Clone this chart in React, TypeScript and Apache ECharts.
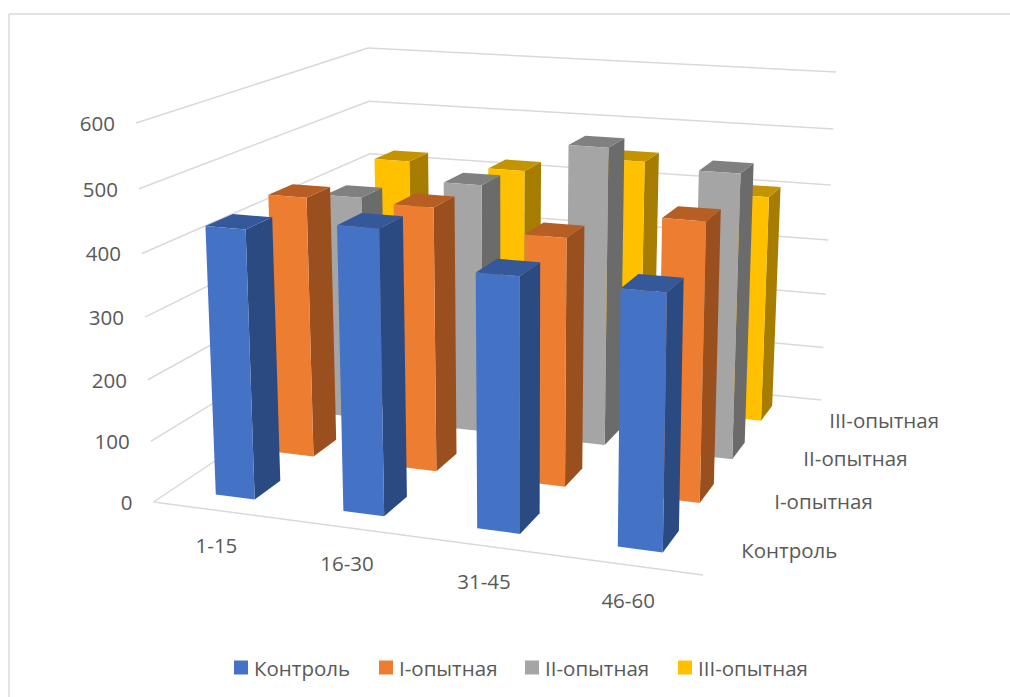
import React, { useEffect, useRef } from "react";
import * as echarts from "echarts";

const categories = ["1-15", "16-30", "31-45", "46-60"];
const seriesNames = ["Контроль", "I-опытная", "II-опытная", "III-опытная"];
const valueTicks = [0, 100, 200, 300, 400, 500, 600];

const control = [435, 453, 399, 394];
const firstGroup = [441, 441, 409, 452];
const secondGroup = [398, 435, 513, 485];
const thirdGroup = [422, 419, 450, 403];
const seriesValues = [control, firstGroup, secondGroup, thirdGroup];

const FRONT_COLORS = ["#4472C4", "#ED7D31", "#A5A5A5", "#FFC000"];
const SIDE_COLORS = ["#2B4A82", "#9A501E", "#6B6B6B", "#A67D00"];
const TOP_COLORS = ["#34589A", "#B65E24", "#808080", "#C49400"];
const LEGEND_LEFTS = [234, 379, 525, 678];

const VALUE_MAX = 600;
const BAR_WIDTH = 0.31;
const BAR_DEPTH = 0.42;
const HEIGHT_FORESHORTEN = 1.05;
const TEXT_COLOR = "#595959";
const GRID_COLOR = "#D9D9D9";
const FONT = "'Open Sans', sans-serif";
const FONT_SIZE = 20.5;

type Pt = [number, number];

// Corners of the floor and of the plane at the axis maximum.
const floorO: Pt = [153.5, 502];
const floorX: Pt = [703, 575];
const floorXY: Pt = [821, 400];
const floorY: Pt = [374, 355];
const topO: Pt = [136, 123];
const topXY: Pt = [836, 72];
const topY: Pt = [368, 48];

// Denominator of the floor's projective map (corners 00, 10, 11, 01).
const sx = floorO[0] - floorX[0] + floorXY[0] - floorY[0];
const sy = floorO[1] - floorX[1] + floorXY[1] - floorY[1];
const dx1 = floorX[0] - floorXY[0];
const dx2 = floorY[0] - floorXY[0];
const dy1 = floorX[1] - floorXY[1];
const dy2 = floorY[1] - floorXY[1];
const det = dx1 * dy2 - dx2 * dy1;
const g = (sx * dy2 - dx2 * sy) / det;
const h = (dx1 * sy - sx * dy1) / det;

// A plane through three corners that shares the floor's foreshortening.
function planeMap(o: Pt, xy: Pt, y: Pt) {
  const coef = (k: number) => {
    const b = y[k] * (1 + h) - o[k];
    const a = xy[k] * (1 + g + h) - b - o[k];
    return [a, b, o[k]];
  };
  const cx = coef(0);
  const cy = coef(1);
  return (u: number, v: number): Pt => {
    const w = g * u + h * v + 1;
    return [(cx[0] * u + cx[1] * v + cx[2]) / w, (cy[0] * u + cy[1] * v + cy[2]) / w];
  };
}

const floorPlane = planeMap(floorO, floorXY, floorY);
const topPlane = planeMap(topO, topXY, topY);

// Category position, series position and value to pixels.
function project(cat: number, row: number, value: number): Pt {
  const u = cat / categories.length;
  const v = row / seriesNames.length;
  const r = value / VALUE_MAX;
  const t = r / (HEIGHT_FORESHORTEN - (HEIGHT_FORESHORTEN - 1) * r);
  const f = floorPlane(u, v);
  const c = topPlane(u, v);
  return [f[0] + (c[0] - f[0]) * t, f[1] + (c[1] - f[1]) * t];
}

const poly = (points: Pt[], fill: string) => ({
  type: "polygon",
  shape: { points },
  style: { fill, stroke: null },
});

function barRenderer(row: number) {
  return (_params: unknown, api: any) => {
    const cat = api.value(0);
    const val = api.value(1);
    const x0 = cat + 0.5 - BAR_WIDTH / 2;
    const x1 = cat + 0.5 + BAR_WIDTH / 2;
    const y0 = row + 0.5 - BAR_DEPTH / 2;
    const y1 = row + 0.5 + BAR_DEPTH / 2;
    return {
      type: "group",
      children: [
        poly([project(x1, y0, 0), project(x1, y1, 0), project(x1, y1, val), project(x1, y0, val)], SIDE_COLORS[row]),
        poly([project(x0, y0, val), project(x1, y0, val), project(x1, y1, val), project(x0, y1, val)], TOP_COLORS[row]),
        poly([project(x0, y0, 0), project(x1, y0, 0), project(x1, y0, val), project(x0, y0, val)], FRONT_COLORS[row]),
      ],
    };
  };
}

const label = (text: string, x: number, y: number, align: string) => ({
  type: "text",
  x,
  y,
  style: { text, fill: TEXT_COLOR, font: `${FONT_SIZE}px ${FONT}`, align, verticalAlign: "middle" },
});

const line = (a: Pt, b: Pt) => ({
  type: "line",
  shape: { x1: a[0], y1: a[1], x2: b[0], y2: b[1] },
  style: { stroke: GRID_COLOR, lineWidth: 1.5 },
});

const nCats = categories.length;
const nRows = seriesNames.length;

// Walls, floor and axis labels of the box.
function frameRenderer(_params: unknown, api: any) {
  const kind = api.value(0);
  const idx = api.value(1);
  if (kind === 0) {
    const v = valueTicks[idx];
    const start = project(0, 0, v);
    return {
      type: "group",
      children: [
        line(start, project(0, nRows, v)),
        line(project(0, nRows, v), project(nCats, nRows, v)),
        label(String(v), start[0] - 21, start[1], "right"),
      ],
    };
  }
  if (kind === 1) {
    const p = project(idx + 0.5, 0, 0);
    return label(categories[idx], p[0], p[1] + 35, "center");
  }
  if (kind === 2) {
    const p = project(nCats, idx + 0.5, 0);
    return label(seriesNames[idx], p[0] + 20, p[1] + 2, "left");
  }
  return line(project(0, 0, 0), project(nCats, 0, 0));
}

const frameData: number[][] = [
  ...valueTicks.map((_, i) => [0, i]),
  ...categories.map((_, i) => [1, i]),
  ...seriesNames.map((_, i) => [2, i]),
  [3, 0],
];

export default function App() {
  const ref = useRef<HTMLDivElement>(null);
  useEffect(() => {
    const chart = echarts.init(ref.current!, undefined, { renderer: "svg" });
    chart.setOption({
      animation: false,
      backgroundColor: "#FFFFFF",
      graphic: [
        { type: "line", shape: { x1: 9, y1: 14, x2: 1010, y2: 14 }, style: { stroke: GRID_COLOR, lineWidth: 1.5 } },
        { type: "line", shape: { x1: 9, y1: 14, x2: 9, y2: 697 }, style: { stroke: GRID_COLOR, lineWidth: 1.5 } },
      ],
      legend: seriesNames.map((name, i) => ({
        data: [name],
        left: LEGEND_LEFTS[i],
        top: 657,
        padding: 0,
        itemWidth: 14,
        itemHeight: 14,
        icon: "rect",
        textStyle: { color: TEXT_COLOR, fontFamily: FONT, fontSize: FONT_SIZE, padding: [0, 0, 0, 1] },
      })),
      series: [
        {
          type: "custom",
          name: "frame",
          coordinateSystem: "none",
          z: 1,
          silent: true,
          renderItem: frameRenderer,
          data: frameData,
        },
        ...seriesNames.map((name, row) => ({
          type: "custom",
          name,
          coordinateSystem: "none",
          z: 10 - row,
          itemStyle: { color: FRONT_COLORS[row] },
          renderItem: barRenderer(row),
          data: seriesValues[row].map((v, cat) => [cat, v]),
        })),
      ],
    });
    return () => chart.dispose();
  }, []);
  return <div ref={ref} style={{ position: "fixed", left: 0, top: 0, width: 1010, height: 697 }} />;
}
